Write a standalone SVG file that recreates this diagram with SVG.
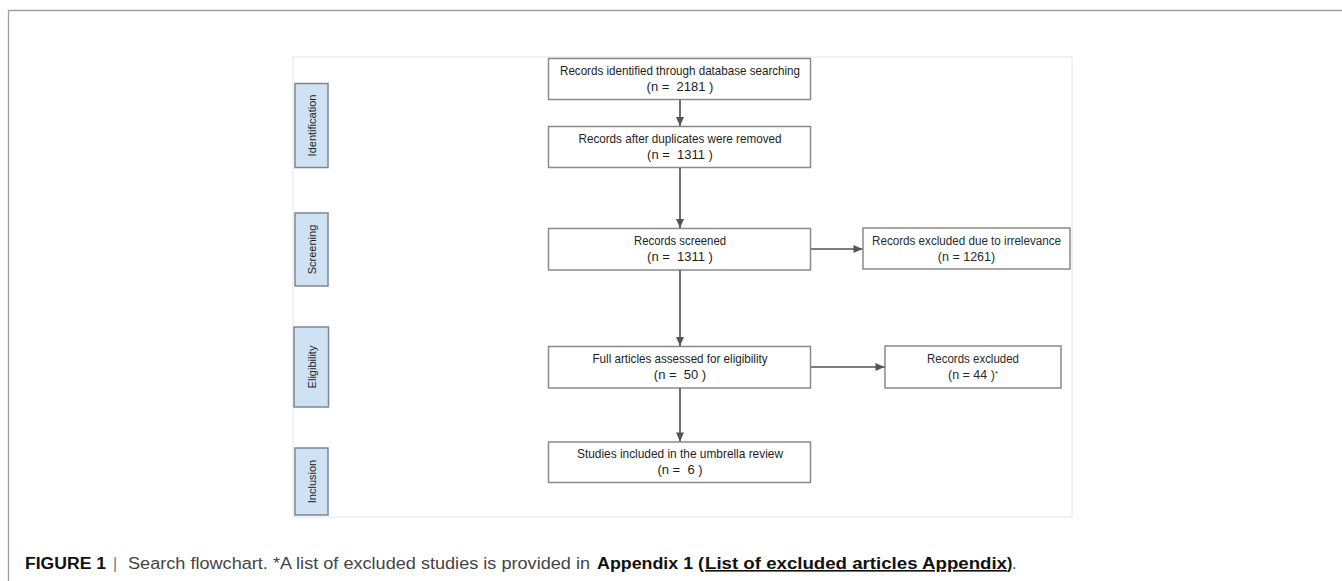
<svg xmlns="http://www.w3.org/2000/svg" width="1342" height="581" viewBox="0 0 1342 581">
<style>
.frame{fill:none;stroke:#a0a0a0;stroke-width:1.3}
.inner{fill:#fff;stroke:#e4e4e4;stroke-width:1}
.box{fill:#fff;stroke:#8a8a8a;stroke-width:1.5}
.side{fill:#cfe2f3;stroke:#7d8792;stroke-width:1.5}
.t{font-family:"Liberation Sans",Arial,sans-serif;font-size:13px;fill:#1e1e1e;text-anchor:middle;white-space:pre}
.r{font-family:"Liberation Sans",Arial,sans-serif;font-size:12.5px;fill:#2a2a2a;text-anchor:middle;white-space:pre}
.s{font-family:"Liberation Sans",Arial,sans-serif;font-size:11px;fill:#1e1e1e;text-anchor:middle}
.cap{font-family:"Liberation Sans",Arial,sans-serif;font-size:16px;fill:#444}
.b{font-weight:bold;fill:#111}
.conn line{stroke:#555;stroke-width:1.7;marker-end:url(#ah)}
</style>
<defs>
<marker id="ah" viewBox="0 0 10 10" refX="10" refY="5" markerWidth="9" markerHeight="8" markerUnits="userSpaceOnUse" orient="auto" overflow="visible" preserveAspectRatio="none">
<path d="M0,0 L10,5 L0,10 z" fill="#555"/>
</marker>
</defs>
<rect width="1342" height="581" fill="#fff"/>
<path class="frame" d="M8.5,581 V10.5 H1342"/>
<rect class="inner" x="293" y="57" width="779" height="460"/>

<g id="side-identification"><rect class="side" x="295" y="83.5" width="33" height="84"/><text class="s" transform="translate(315.5,125.5) rotate(-90)">Identification</text></g>
<g id="side-screening"><rect class="side" x="295" y="213" width="33" height="73"/><text class="s" transform="translate(315.5,249.5) rotate(-90)">Screening</text></g>
<g id="side-eligibility"><rect class="side" x="294" y="327" width="34.5" height="80"/><text class="s" transform="translate(315.5,367) rotate(-90)">Eligibility</text></g>
<g id="side-inclusion"><rect class="side" x="295" y="448" width="33" height="67"/><text class="s" transform="translate(315.5,481.5) rotate(-90)">Inclusion</text></g>

<g id="n1"><rect class="box" x="548.5" y="58.5" width="262" height="41"/><text class="t" x="680" y="74.5" textLength="240" lengthAdjust="spacingAndGlyphs">Records identified through database searching</text><text class="t" x="680" y="90.5">(n =  2181 )</text></g>
<g id="n2"><rect class="box" x="548.5" y="126.5" width="262" height="41"/><text class="t" x="680" y="143" textLength="203" lengthAdjust="spacingAndGlyphs">Records after duplicates were removed</text><text class="t" x="680" y="159">(n =  1311 )</text></g>
<g id="n3"><rect class="box" x="548.5" y="228.5" width="262" height="41.5"/><text class="t" x="680" y="244.5" textLength="92" lengthAdjust="spacingAndGlyphs">Records screened</text><text class="t" x="680" y="260.5">(n =  1311 )</text></g>
<g id="n4"><rect class="box" x="548.5" y="346.5" width="262" height="41.5"/><text class="t" x="680" y="362.5" textLength="175" lengthAdjust="spacingAndGlyphs">Full articles assessed for eligibility</text><text class="t" x="680" y="378.5">(n =  50 )</text></g>
<g id="n5"><rect class="box" x="548.5" y="442" width="262" height="40.5"/><text class="t" x="680" y="457.5" textLength="206" lengthAdjust="spacingAndGlyphs">Studies included in the umbrella review</text><text class="t" x="680" y="473.5">(n =  6 )</text></g>
<g id="n6"><rect class="box" x="863" y="228" width="207" height="41"/><text class="r" x="966.5" y="245" textLength="189" lengthAdjust="spacingAndGlyphs">Records excluded due to irrelevance</text><text class="r" x="966.5" y="260.5">(n = 1261)</text></g>
<g id="n7"><rect class="box" x="885" y="346" width="176" height="42"/><text class="r" x="973" y="363" textLength="92" lengthAdjust="spacingAndGlyphs">Records excluded</text><text class="r" x="973" y="378.5">(n = 44 )<tspan font-size="8" dy="-3">*</tspan></text></g>

<g id="connectors" class="conn">
<line x1="680" y1="100" x2="680" y2="126"/>
<line x1="680" y1="168" x2="680" y2="228"/>
<line x1="680" y1="270" x2="680" y2="346"/>
<line x1="680" y1="388" x2="680" y2="441.5"/>
<line x1="811" y1="249" x2="862.5" y2="249"/>
<line x1="811" y1="367" x2="884.5" y2="367"/>
</g>

<g id="caption">
<text class="cap" y="569"><tspan class="b" x="25" textLength="81" lengthAdjust="spacingAndGlyphs">FIGURE 1</tspan><tspan x="113" fill="#777">|</tspan><tspan x="128" textLength="462" lengthAdjust="spacingAndGlyphs">Search flowchart. *A list of excluded studies is provided in</tspan><tspan class="b" x="597" textLength="107" lengthAdjust="spacingAndGlyphs">Appendix 1 (</tspan><tspan class="b" x="705" text-decoration="underline" textLength="302" lengthAdjust="spacingAndGlyphs">List of excluded articles Appendix</tspan><tspan class="b" x="1007">)</tspan><tspan x="1012">.</tspan></text>
</g>
</svg>
